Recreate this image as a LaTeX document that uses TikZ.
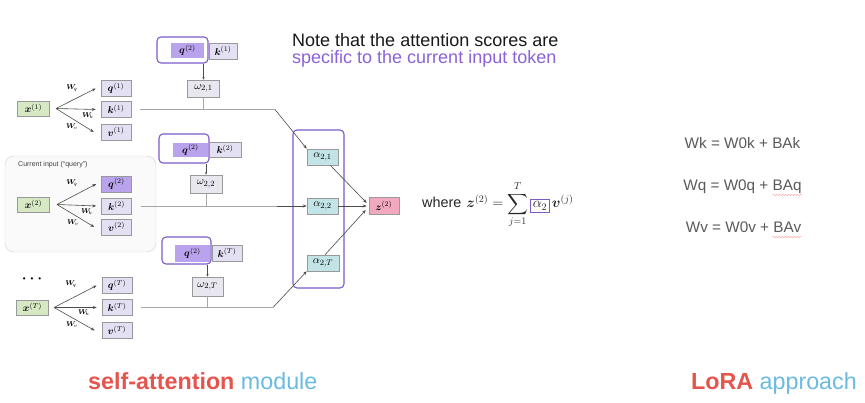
\documentclass[tikz,border=0pt]{standalone}
\usepackage{amsmath}
\usepackage[no-math]{fontspec}
\setmainfont{Liberation Sans}
\usepackage{bm}
\usetikzlibrary{arrows.meta,decorations.pathmorphing}
\definecolor{purp}{HTML}{7B5CC9}
\definecolor{notepurp}{HTML}{8B62D9}
\definecolor{qfill}{HTML}{B9A3EC}
\definecolor{kfill}{HTML}{E2E0F2}
\definecolor{xfill}{HTML}{D6E8C4}
\definecolor{wfill}{HTML}{E8E6EE}
\definecolor{afill}{HTML}{C2E4E6}
\definecolor{zfill}{HTML}{F2A8BE}
\definecolor{coral}{HTML}{E5554D}
\definecolor{skyb}{HTML}{6ABAE2}
\definecolor{eqgray}{HTML}{5A5A5A}
\begin{document}
\begin{tikzpicture}[x=1pt,y=-1pt,
 box/.style={draw=black!40, line width=0.5pt, inner sep=0pt, font=\fontsize{10}{11}\selectfont},
 xbox/.style={box, fill=xfill, minimum width=32pt, minimum height=15pt},
 kbox/.style={box, fill=kfill, minimum width=30pt, minimum height=16pt},
 qbox/.style={box, fill=qfill, minimum width=30pt, minimum height=16pt},
 gqbox/.style={box, fill=qfill, draw=none, minimum width=33pt, minimum height=15pt},
 wbox/.style={box, fill=wfill, minimum width=32pt, minimum height=17pt, font=\fontsize{10.95}{12}\selectfont},
 abox/.style={box, fill=afill, minimum width=31pt, minimum height=16pt, font=\fontsize{10.95}{12}\selectfont},
 zbox/.style={box, fill=zfill, minimum width=30pt, minimum height=17pt},
 grp/.style={draw=purp, line width=1.1pt, rounded corners=4pt, inner sep=0pt},
 arr/.style={-{Stealth[length=4pt,width=3pt]}, draw=black!70, line width=0.6pt},
 ln/.style={draw=black!35, line width=0.6pt},
 wlab/.style={font=\fontsize{7}{7}\selectfont, inner sep=0pt},
 leq/.style={font=\fontsize{15.3}{17}\selectfont, text=eqgray, inner sep=0pt, anchor=base},
 squig/.style={decorate, decoration={snake, amplitude=0.5pt, segment length=3pt}, draw=red!50, line width=0.4pt}
]
\useasboundingbox (0,0) rectangle (865,403);
\fill[white] (0,0) rectangle (865,403);

% current input frame
\node[draw=black!18, fill=black!2, rounded corners=9pt, minimum width=151pt, minimum height=96pt, inner sep=0pt] (cur) at (80.5,204) {};
\node[anchor=west, font=\fontsize{7}{8}\selectfont, text=black!75, inner sep=0pt] (curlab) at (18,165) {Current input (“query”)};

% row 1
\node[xbox] (x1) at (33.5,108.5) {$\bm{x}^{(1)}$};
\node[kbox] (q1) at (116,88.5) {$\bm{q}^{(1)}$};
\node[kbox] (k1) at (116,109.5) {$\bm{k}^{(1)}$};
\node[kbox] (v1) at (116,132) {$\bm{v}^{(1)}$};
\coordinate (f1) at (56,108.5);
\draw[arr] (f1) -- ([xshift=-5pt]q1.west);
\draw[arr] (f1) -- ([xshift=-5pt]k1.west);
\draw[arr] (f1) -- ([xshift=-7pt]v1.west);
\node[wlab] (wq1) at (72,88) {$\bm{W}_{\!q}$};
\node[wlab] (wk1) at (88,116) {$\bm{W}_{\!k}$};
\node[wlab] (wv1) at (72,127) {$\bm{W}_{\!v}$};

% row 2
\node[xbox] (x2) at (33.5,204.5) {$\bm{x}^{(2)}$};
\node[qbox] (q2) at (116.5,184) {$\bm{q}^{(2)}$};
\node[kbox] (k2) at (116.5,206) {$\bm{k}^{(2)}$};
\node[kbox] (v2) at (116.5,227) {$\bm{v}^{(2)}$};
\coordinate (f2) at (57,204.5);
\draw[arr] (f2) -- ([xshift=-5pt]q2.west);
\draw[arr] (f2) -- ([xshift=-5pt]k2.west);
\draw[arr] (f2) -- ([xshift=-7pt]v2.west);
\node[wlab] (wq2) at (72,183) {$\bm{W}_{\!q}$};
\node[wlab] (wk2) at (87,212) {$\bm{W}_{\!k}$};
\node[wlab] (wv2) at (73,223) {$\bm{W}_{\!v}$};

% row 3
\node[font=\fontsize{8}{8}\selectfont, inner sep=0pt] (dots) at (32,280) {•\hspace{5pt}•\hspace{5pt}•};
\node[xbox] (xT) at (32.5,307.5) {$\bm{x}^{(T)}$};
\node[kbox] (qT) at (117,285.5) {$\bm{q}^{(T)}$};
\node[kbox] (kT) at (117,307.5) {$\bm{k}^{(T)}$};
\node[kbox] (vT) at (117,330.5) {$\bm{v}^{(T)}$};
\coordinate (f3) at (54,307.5);
\draw[arr] (f3) -- ([xshift=-5pt]qT.west);
\draw[arr] (f3) -- ([xshift=-5pt]kT.west);
\draw[arr] (f3) -- ([xshift=-7pt]vT.west);
\node[wlab] (wq3) at (71,284) {$\bm{W}_{\!q}$};
\node[wlab] (wk3) at (84,313) {$\bm{W}_{\!k}$};
\node[wlab] (wv3) at (72,325) {$\bm{W}_{\!v}$};

% middle column group 1
\node[grp, minimum width=51pt, minimum height=26pt] (g1) at (182.5,50) {};
\node[gqbox] (gq1) at (187.5,50.5) {$\bm{q}^{(2)}$};
\node[kbox, minimum width=28pt] (gk1) at (223,51) {$\bm{k}^{(1)}$};
\node[wbox] (w21) at (203.5,88.5) {$\omega_{2,1}$};
\draw[arr, line width=0.4pt, -{Stealth[length=2.5pt,width=2pt]}] (w21.north |- g1.south) -- (w21.north);

% group 2
\node[grp, minimum width=50pt, minimum height=29pt] (g2) at (184,148.5) {};
\node[gqbox, minimum width=35pt, minimum height=14pt] (gq2) at (190.5,150) {$\bm{q}^{(2)}$};
\node[kbox, minimum width=32pt, minimum height=15pt] (gk2) at (225,149.5) {$\bm{k}^{(2)}$};
\node[wbox, minimum height=18pt] (w22) at (206,184) {$\omega_{2,2}$};
\draw[arr, line width=0.4pt, -{Stealth[length=2.5pt,width=2pt]}] (w22.north |- g2.south) -- (w22.north);

% group 3
\node[grp, minimum width=49pt, minimum height=27pt] (g3) at (186.5,250.5) {};
\node[gqbox, minimum width=35pt, minimum height=17pt] (gq3) at (192.5,253.5) {$\bm{q}^{(2)}$};
\node[kbox] (gk3) at (227,253) {$\bm{k}^{(T)}$};
\node[wbox, minimum width=31pt, minimum height=19pt] (w2T) at (207.5,286.5) {$\omega_{2,T}$};
\draw[arr, line width=0.4pt, -{Stealth[length=2.5pt,width=2pt]}] (w2T.north |- g3.south) -- (w2T.north);

% alpha group
\node[grp, minimum width=51pt, minimum height=158pt] (ag) at (318.5,209) {};
\node[abox] (a21) at (322.5,157) {$\alpha_{2,1}$};
\node[abox] (a22) at (322.5,206) {$\alpha_{2,2}$};
\node[abox, minimum width=32pt] (a2T) at (323,263) {$\alpha_{2,T}$};
\node[zbox] (z) at (384,206) {$\bm{z}^{(2)}$};

% score lines
\coordinate (b1) at (275,109.5);
\coordinate (b3) at (273,307.5);
\draw[ln] (w21.south) -- (w21.south |- b1);
\draw[ln] (w22.south) -- (w22.south |- a22.west);
\draw[ln] (w2T.south) -- (w2T.south |- b3);
\draw[ln] ([xshift=9pt]k1.east) -- (b1);
\draw[arr] (b1) -- (a21.north west);
\draw[ln] ([xshift=9pt]k2.east) -- ([xshift=-30pt]a22.west);
\draw[arr] ([xshift=-30pt]a22.west) -- (a22.west);
\draw[ln] ([xshift=9pt]kT.east) -- (b3);
\draw[arr] (b3) -- (a2T.south west);

% to z
\draw[arr] ([xshift=-8pt]a21.south east) -- ([xshift=-2pt,yshift=3pt]z.west);
\draw[arr] (a22.east) -- ([xshift=-2pt]z.west);
\draw[arr] ([xshift=2pt]a2T.north) -- ([xshift=-3pt,yshift=-4pt]z.west);

% equation
\setlength{\fboxsep}{1.5pt}\setlength{\fboxrule}{0.8pt}
\node[anchor=base west, font=\fontsize{14.4}{16}\selectfont, inner sep=0pt, text=black!85] (eq) at (422,208)
 {where\hspace{5pt}$\displaystyle \bm{z}^{(2)} = \sum_{j=1}^{T}\fcolorbox{purp}{white}{$\alpha_2$}\,\bm{v}^{(j)}$};

% note
\node[anchor=base west, font=\fontsize{18}{20}\selectfont, inner sep=0pt, text=black!90] (note1) at (292,47) {Note that the attention scores are};
\node[anchor=base west, font=\fontsize{18}{20}\selectfont, inner sep=0pt, text=notepurp] (note2) at (292,64) {specific to the current input token};

% LoRA equations
\node[leq] (ek) at (742.5,149) {Wk = W0k + BAk};
\node[leq] (eqq) at (742.5,191) {Wq = W0q + BAq};
\node[leq] (ev) at (743.5,233) {Wv = W0v + BAv};
\draw[squig] ([xshift=-29pt,yshift=-4pt]eqq.base east) -- ([yshift=-4pt]eqq.base east);
\draw[squig] ([xshift=-29pt,yshift=-4pt]ev.base east) -- ([yshift=-4pt]ev.base east);

% captions
\node[anchor=base west, font=\fontsize{23.3}{26}\selectfont, inner sep=0pt] (sam) at (88,389)
 {\textcolor{coral}{\bfseries self-attention} \textcolor{skyb}{module}};
\node[anchor=base east, font=\fontsize{23.3}{26}\selectfont, inner sep=0pt] (lora) at (857,389)
 {\textcolor{coral}{\bfseries LoRA} \textcolor{skyb}{approach}};
\end{tikzpicture}
\end{document}
